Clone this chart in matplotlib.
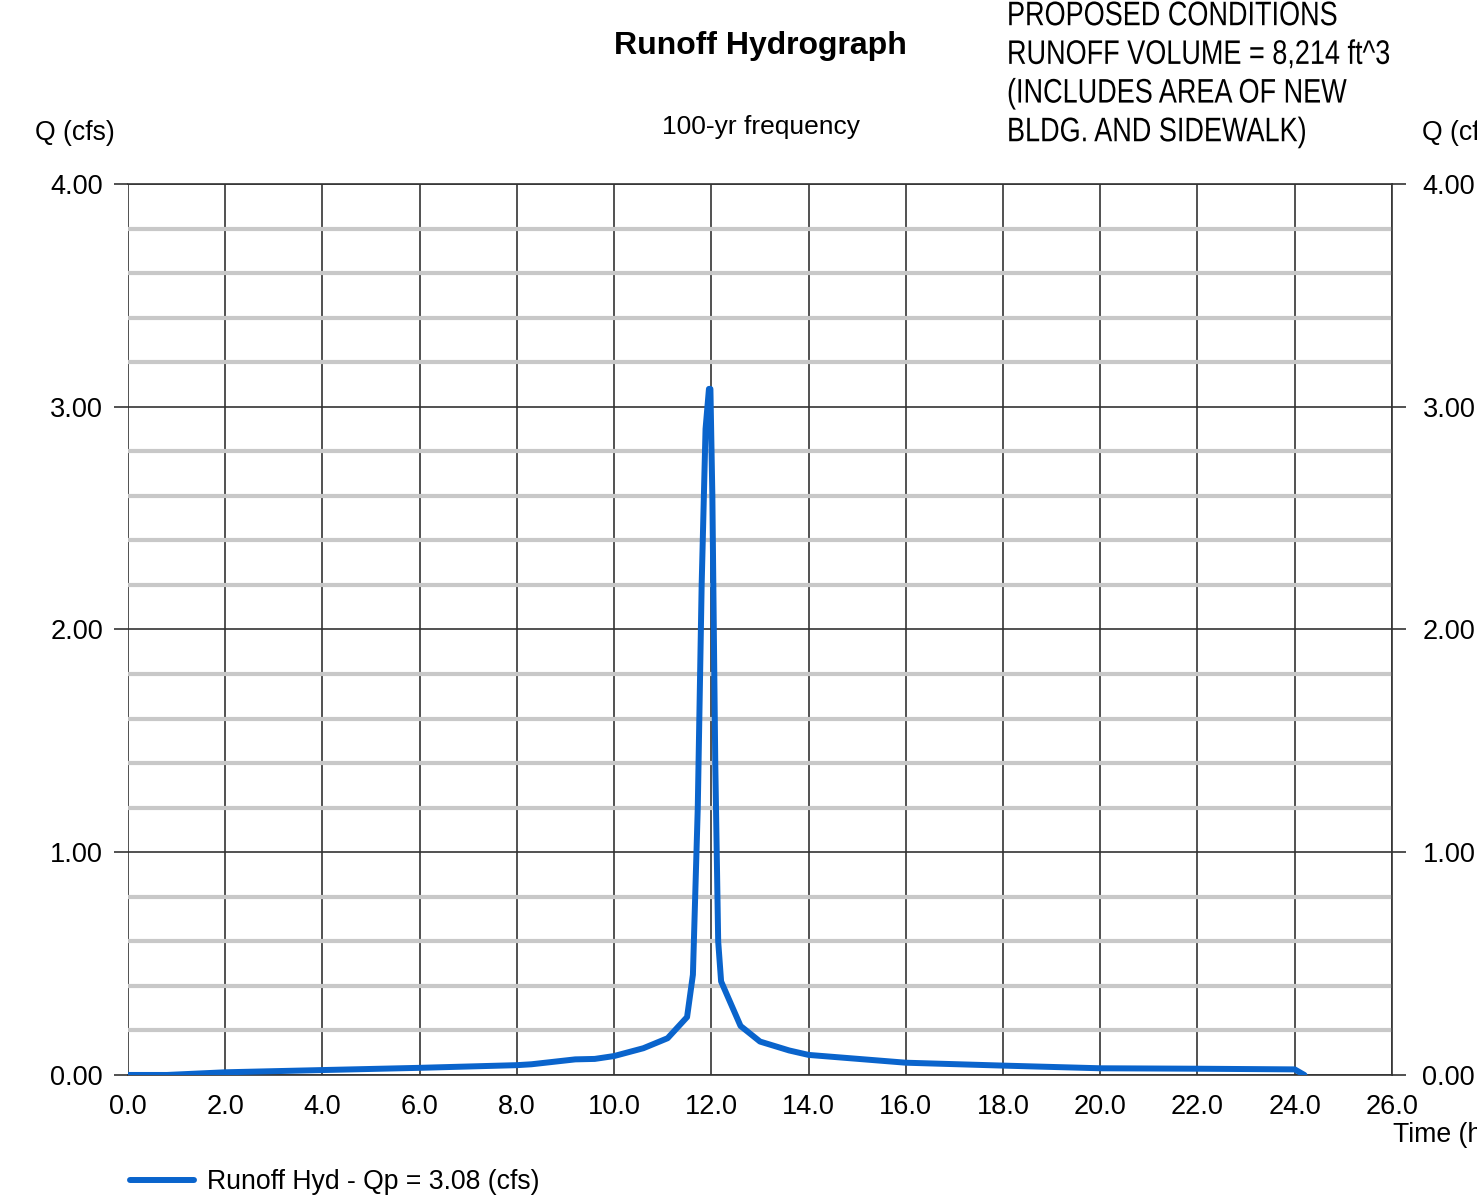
import matplotlib.pyplot as plt
from matplotlib.ticker import MultipleLocator
from matplotlib.patheffects import AbstractPathEffect
from matplotlib.transforms import Affine2D

plt.rcParams['font.family'] = ['Liberation Sans', 'DejaVu Sans']

# hydrograph
time_hr = [0.0, 0.8, 2.0, 4.0, 6.0, 8.0, 8.3, 9.2, 9.6, 10.0, 10.6, 11.1, 11.5,
           11.62, 11.72, 11.8, 11.88, 11.95, 11.98, 12.02, 12.08, 12.14, 12.2,
           12.6, 13.0, 13.6, 14.0, 16.0, 18.0, 20.0, 22.0, 24.0, 24.2]
flow_cfs = [0.0, 0.0, 0.012, 0.022, 0.032, 0.044, 0.048, 0.07, 0.072, 0.085,
            0.12, 0.165, 0.26, 0.45, 1.2, 2.2, 2.9, 3.08, 3.08, 2.6, 1.4, 0.6,
            0.42, 0.22, 0.15, 0.11, 0.09, 0.055, 0.042, 0.03, 0.028, 0.025, 0.0]

x_ticks = [0, 2, 4, 6, 8, 10, 12, 14, 16, 18, 20, 22, 24, 26]
y_ticks = [0, 1, 2, 3, 4]


class Narrow(AbstractPathEffect):
    # squeeze text horizontally around a fixed pixel x (narrow font look)
    def __init__(self, x0, sx):
        super().__init__()
        self.x0, self.sx = x0, sx

    def draw_path(self, renderer, gc, tpath, affine, rgbFace=None):
        squeeze = Affine2D().translate(-self.x0, 0).scale(self.sx, 1).translate(self.x0, 0)
        renderer.draw_path(gc, tpath, affine + squeeze, rgbFace)


fig = plt.figure(figsize=(14.77, 12), dpi=100)
ax = fig.add_axes([0.0867, 0.1042, 0.8557, 0.7425])

ax.plot(time_hr, flow_cfs, color='#0a64cc', linewidth=4.3, solid_capstyle='round',
        solid_joinstyle='round', label='Runoff Hyd - Qp = 3.08 (cfs)', zorder=5)

ax.set_xlim(0, 26)
ax.set_ylim(0, 4)
ax.set_xticks(x_ticks)
ax.set_xticklabels([f'{v:.1f}' for v in x_ticks])
ax.set_yticks(y_ticks)
ax.set_yticklabels([f'{v:.2f}' for v in y_ticks])
ax.yaxis.set_minor_locator(MultipleLocator(0.2))

ax.grid(True, which='major', axis='both', color='#333333', linewidth=1.2)
ax.grid(True, which='minor', axis='y', color='#c8c8c8', linewidth=3)
ax.set_axisbelow(True)
ax.tick_params(which='major', length=10, width=1.2, color='#333333', labelsize=19.5, pad=8)
ax.tick_params(which='minor', length=0)
ax.tick_params(axis='x', length=0, pad=14)
for s in ax.spines.values():
    s.set_color('#333333')
    s.set_linewidth(1.2)
ax.spines['left'].set_visible(False)

ax2 = ax.twinx()
ax2.set_ylim(0, 4)
ax2.set_yticks(y_ticks)
ax2.set_yticklabels([f'{v:.2f}' for v in y_ticks])
ax2.tick_params(length=10, width=1.2, color='#333333', labelsize=19.5, pad=12)
for s in ax2.spines.values():
    s.set_visible(False)

fig.text(0.024, 0.889, 'Q (cfs)', fontsize=19.2, va='center', ha='left')
fig.text(0.963, 0.889, 'Q (cfs)', fontsize=19.2, va='center', ha='left')
fig.text(0.943, 0.054, 'Time (hrs)', fontsize=19.2, va='center', ha='left')

fig.text(0.515, 0.962, 'Runoff Hydrograph', fontsize=23, fontweight='bold',
         ha='center', va='center')
fig.text(0.515, 0.894, '100-yr frequency', fontsize=19, ha='center', va='center')
fig.text(1007 / 1477, 0.999, 'PROPOSED CONDITIONS\nRUNOFF VOLUME = 8,214 ft^3\n'
         '(INCLUDES AREA OF NEW\nBLDG. AND SIDEWALK)',
         fontsize=24.5, ha='left', va='top', linespacing=1.32,
         path_effects=[Narrow(1007, 0.795)])

ax.legend(loc='upper left', bbox_to_anchor=(-0.007, -0.094), frameon=False,
          fontsize=19.2, handlelength=2.4, handletextpad=0.5, borderaxespad=0)

fig.savefig('out.png', dpi=100)
